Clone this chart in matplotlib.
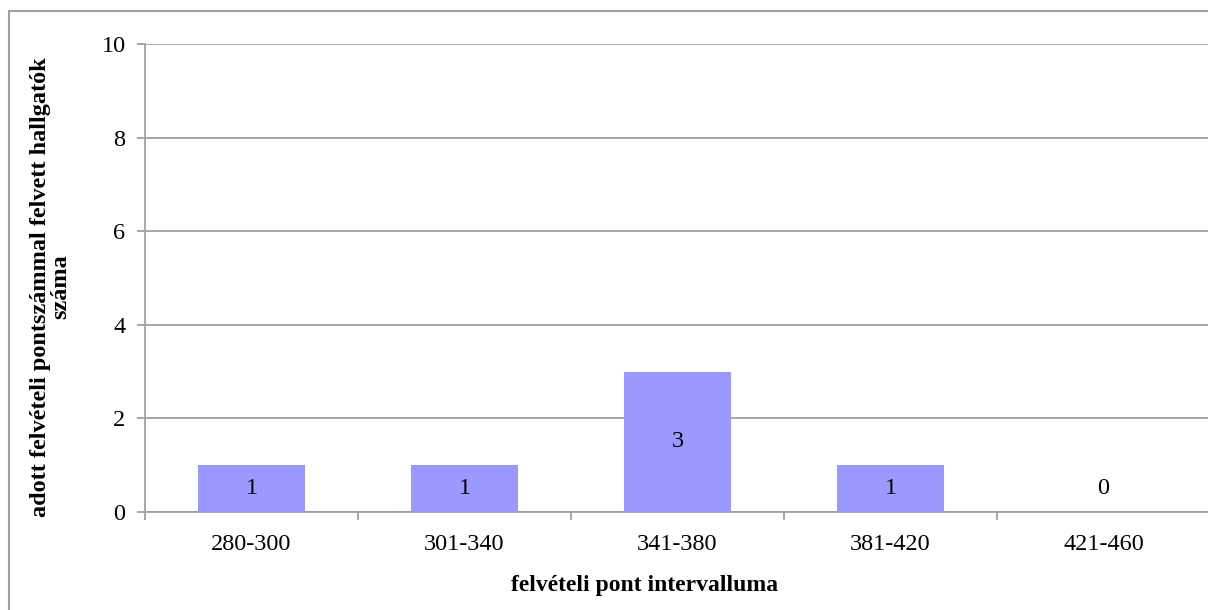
import numpy as np
import matplotlib.pyplot as plt
from matplotlib.patches import Rectangle

categories = ["280-300", "301-340", "341-380", "381-420", "421-460"]
counts = [1, 1, 3, 1, 0]

plt.rcParams.update({'font.family': 'Liberation Serif',
                     'font.size': 17.5})

fig = plt.figure(figsize=(12.08, 6.10), dpi=100)
# plot area runs past the right edge of the picture (cropped like the original)
ax = fig.add_axes([145 / 1208, 1 - 512 / 610, 1065 / 1208, 468 / 610])

# outer chart border (only left and top visible)
fig.patches.append(Rectangle((9 / 1208, -0.05), 1.2, 1.05 - 11 / 610, transform=fig.transFigure,
                             fill=False, edgecolor='#a0a0a0', linewidth=1.5))

x = np.arange(len(categories))
ax.bar(x, counts, width=0.5, color='#9999ff', zorder=3)

for xi, v in zip(x, counts):
    ypos = v / 2 if v > 0 else 0.5
    ax.text(xi, ypos, str(v), ha='center', va='center', fontsize=17.5, zorder=4)

ax.set_xlim(-0.5, len(categories) - 0.5)
ax.set_ylim(0, 10)
ax.set_yticks([0, 2, 4, 6, 8, 10])
ax.yaxis.grid(True, color='#a0a0a0', linewidth=1.3, zorder=0)
ax.set_axisbelow(True)

ax.set_xticks(x)
ax.set_xticklabels(categories)
ax.set_xticks(np.arange(-0.5, len(categories)), minor=True)
ax.tick_params(axis='x', which='major', length=0, pad=16)
ax.tick_params(axis='x', which='minor', length=6, color='#a0a0a0', width=1.3)
ax.tick_params(axis='y', length=6, color='#a0a0a0', width=1.3, pad=8)

for s in ['top', 'right']:
    ax.spines[s].set_visible(False)
for s in ['left', 'bottom']:
    ax.spines[s].set_color('#a0a0a0')
    ax.spines[s].set_linewidth(1.3)

# axis titles placed in figure coords
fig.text(645 / 1208, 1 - 585 / 610, 'felvételi pont intervalluma', fontweight='bold',
         fontsize=17, ha='center', va='center')
fig.text(51 / 1208, 1 - 287 / 610, 'adott felvételi pontszámmal felvett hallgatók\nszáma',
         fontweight='bold', fontsize=17.5, ha='center', va='center', rotation=90,
         linespacing=0.95, multialignment='center')

fig.savefig('out.png', dpi=100)
